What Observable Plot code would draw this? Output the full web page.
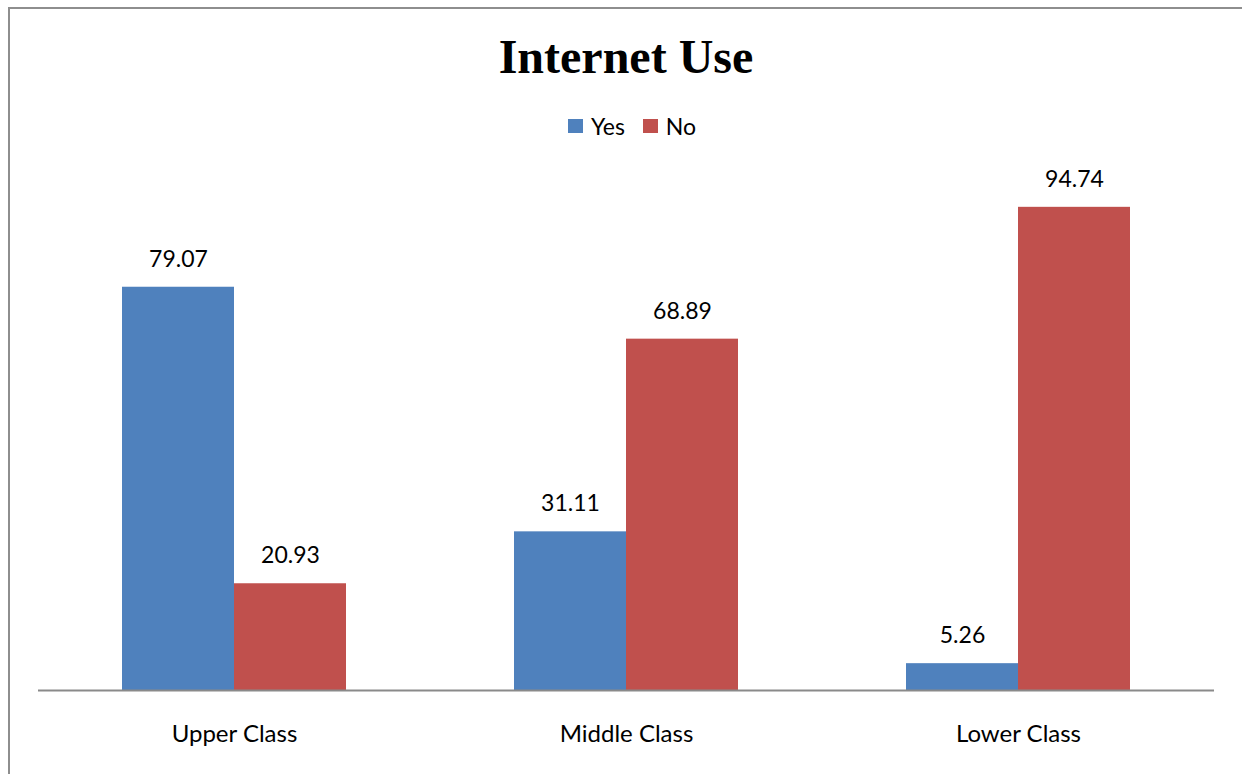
<!DOCTYPE html>
<html>
<head>
<meta charset="utf-8">
<script src="https://cdn.jsdelivr.net/npm/d3@7"></script>
<script src="https://cdn.jsdelivr.net/npm/@observablehq/plot@0.6"></script>
<style>
  html, body { margin: 0; padding: 0; background: #fff; }
  body { width: 1242px; height: 774px; position: relative; overflow: hidden; font-family: Lato, "Open Sans", sans-serif; }
  #frame { position: absolute; left: 8px; top: 7px; width: 1234px; height: 767px; border-left: 2px solid #8e8e8e; border-top: 2px solid #8e8e8e; box-sizing: border-box; }
  #title { position: absolute; left: 0; width: 1252px; top: 33px; text-align: center; font-family: "Liberation Serif", "Times New Roman", serif; font-weight: bold; font-size: 48px; line-height: 48px; color: #000; }
  #legend { position: absolute; top: 114px; left: 6px; width: 1252px; display: flex; justify-content: center; align-items: center; font-size: 23px; line-height: 24px; color: #000; }
  .sw { display: inline-block; width: 15px; height: 14px; margin-right: 8px; }
  .item { display: flex; align-items: center; margin: 0 9px; }
  #chart { position: absolute; left: 0; top: 160px; }
</style>
</head>
<body>
<div id="frame"></div>
<div id="title">Internet Use</div>
<div id="legend"></div>
<div id="chart"></div>
<script>
const categories = ["Upper Class", "Middle Class", "Lower Class"];
const series = ["Yes", "No"];
const yesValues = [79.07, 31.11, 5.26];
const noValues = [20.93, 68.89, 94.74];
const colors = ["#4F81BD", "#C0504D"];

const data = [];
categories.forEach((c, i) => {
  data.push({category: c, series: "Yes", value: yesValues[i]});
  data.push({category: c, series: "No", value: noValues[i]});
});

const legend = document.getElementById("legend");
series.forEach((s, i) => {
  const item = document.createElement("div");
  item.className = "item";
  const sw = document.createElement("span");
  sw.className = "sw";
  sw.style.background = colors[i];
  item.appendChild(sw);
  item.appendChild(document.createTextNode(s));
  legend.appendChild(item);
});

const fmt = d3.format(".2f");

const chart = Plot.plot({
  width: 1242,
  height: 614,
  marginLeft: 38,
  marginRight: 28,
  marginTop: 20,
  marginBottom: 84,
  style: {fontFamily: "Lato, 'Open Sans', sans-serif", fontSize: "24px", color: "#000", background: "transparent"},
  fx: {domain: categories, padding: 0, axis: "bottom", label: null, tickSize: 0, tickPadding: 34},
  x: {domain: series, paddingInner: 0, paddingOuter: 0.75, axis: null},
  y: {domain: [0, 100], axis: null},
  color: {domain: series, range: colors},
  marks: [
    Plot.barY(data, {fx: "category", x: "series", y: "value", fill: "series"}),
    Plot.text(data, {fx: "category", x: "series", y: "value", text: d => fmt(d.value), dy: -28, fontSize: 23, fill: "#000"}),
    Plot.ruleY([0], {stroke: "#8a8a8a", strokeWidth: 2})
  ]
});
document.getElementById("chart").appendChild(chart);
</script>
</body>
</html>
